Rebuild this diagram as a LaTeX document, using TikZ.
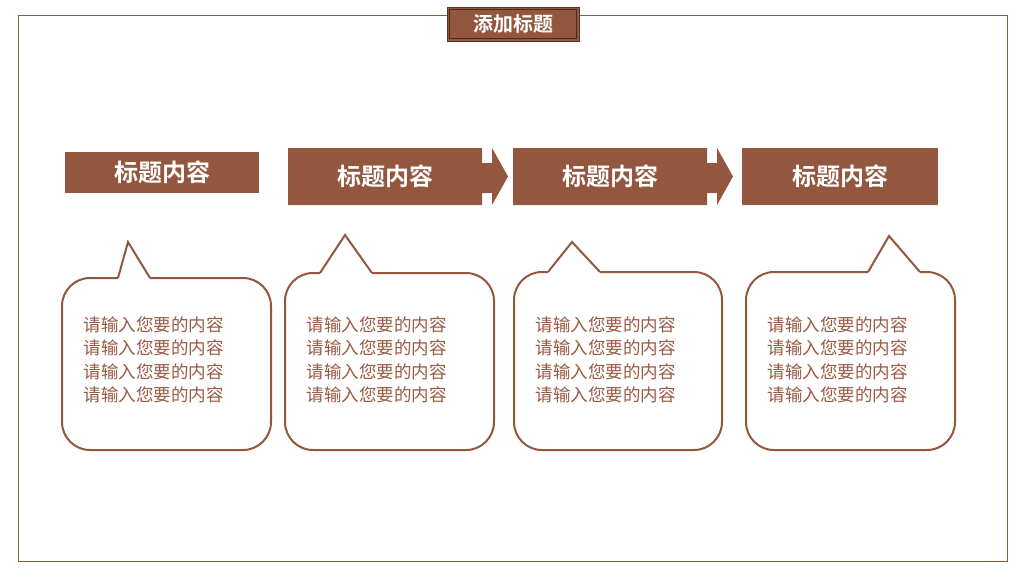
\documentclass[tikz,border=0pt]{standalone}
\usepackage{fontspec}
\newfontfamily\cjk{Noto Sans CJK SC}
\newfontfamily\cjkb{Noto Sans CJK SC Bold}
\definecolor{br}{HTML}{93573F}
\definecolor{tx}{HTML}{9A5A44}
\begin{document}
\begin{tikzpicture}[x=1pt,y=-1pt,
  hd/.style={fill=br,draw=none},
  hdtext/.style={text=white,font=\cjkb\fontsize{24}{26}\selectfont},
  bub/.style={draw=br,line width=2pt,fill=white,rounded corners=28pt},
  body/.style={text=tx,font=\cjk\fontsize{17.5}{23.5}\selectfont,align=left,anchor=north west}]
\useasboundingbox (0,0) rectangle (1024,576);
\draw[br,line width=0.8pt] (18,15) rectangle (1007,561);
\node[fill=br,draw=br!60!black,line width=1pt,minimum width=132pt,minimum height=34pt,inner sep=0pt,text=white,font=\cjkb\fontsize{20}{22}\selectfont] (title) at (513,24) {添加标题};
\draw[white,line width=0.6pt] ([shift={(3,-3)}]title.south west) rectangle ([shift={(-3,3)}]title.north east);
\draw[br!50!black,line width=0.6pt] ([shift={(3,-3)}]title.south west) rectangle ([shift={(-3,3)}]title.north east);
% headers
\fill[br] (65,152) rectangle (259,193);
\node[hdtext] (h1) at (162,172) {标题内容};
\foreach \x/\n in {288/h2,513/h3}{
  \fill[br] (\x,148) -- (\x+194,148) -- (\x+194,163) -- (\x+204,163) -- (\x+204,148) -- (\x+220,176.5) -- (\x+204,205) -- (\x+204,193) -- (\x+194,193) -- (\x+194,205) -- (\x,205) -- cycle;
  \node[hdtext] (\n) at (\x+97,176) {标题内容};
}
\fill[br] (742,148) rectangle (938,205);
\node[hdtext] (h4) at (840,176) {标题内容};
% bubbles
\foreach \l/\t/\r/\pa/\pt/\py/\pb/\n in {62/278/271/118/128/242/150/b1,285/273/494/320/345/235/372/b2,514/272/722/548/572/242/600/b3,746/272/955/868/889/236/920/b4}{
  \draw[bub] (\pa,\t) -- (\r,\t) -- (\r,450) -- (\l,450) -- (\l,\t) -- (\pa,\t);
  \fill[white] (\pa,\t+1.5) rectangle (\pb,\t-1.5);
  \draw[br,line width=2pt,line join=miter] (\pa,\t) -- (\pt,\py) -- (\pb,\t);
  \node[body] (\n) at (\l+18,313) {请输入您要的内容\\请输入您要的内容\\请输入您要的内容\\请输入您要的内容};
}
\end{tikzpicture}
\end{document}
